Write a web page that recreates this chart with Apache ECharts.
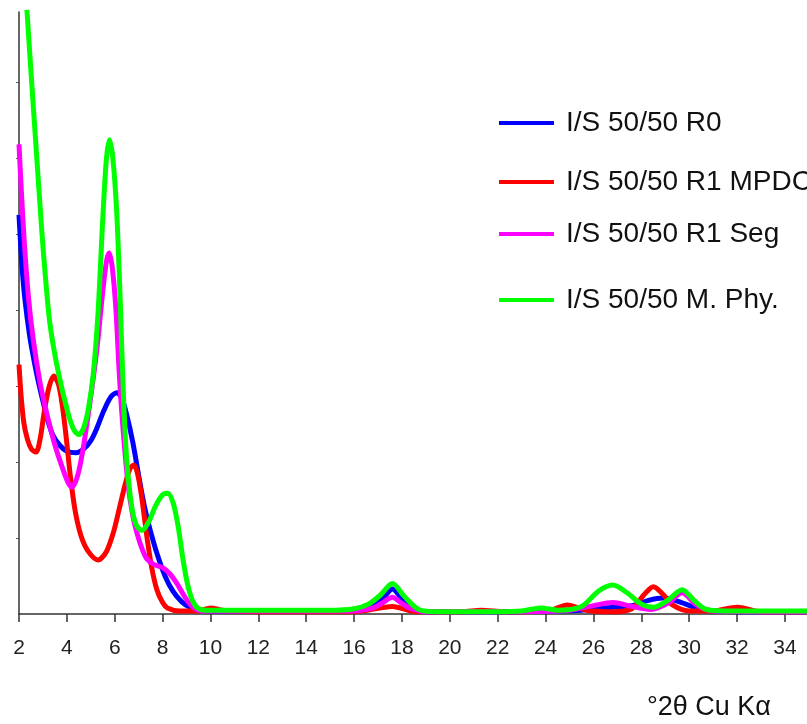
<!DOCTYPE html>
<html>
<head>
<meta charset="utf-8">
<script src="https://cdn.jsdelivr.net/npm/echarts@6/dist/echarts.min.js"></script>
<style>html,body{margin:0;padding:0;background:#fff}#c{width:807px;height:724px}</style>
</head>
<body>
<div id="c"></div>
<script>
const xTicks = [2,4,6,8,10,12,14,16,18,20,22,24,26,28,30,32,34];
const seriesNames = ['I/S 50/50 R0','I/S 50/50 R1 MPDC','I/S 50/50 R1 Seg','I/S 50/50 M. Phy.'];
const axisTitle = '°2θ Cu Kα';

const blueR0 = [[2.0,5.25],[2.12,4.6],[2.25,4.13],[2.45,3.65],[2.65,3.3],[2.85,3.0],[3.0,2.8],[3.2,2.55],[3.42,2.35],[3.7,2.22],[4.0,2.14],[4.38,2.12],[4.7,2.17],[5.0,2.28],[5.26,2.45],[5.55,2.68],[5.85,2.86],[6.09,2.91],[6.28,2.85],[6.5,2.62],[6.76,2.25],[7.0,1.82],[7.25,1.4],[7.5,1.08],[7.76,0.8],[8.1,0.5],[8.43,0.3],[8.8,0.16],[9.14,0.09],[9.6,0.05],[10.5,0.04],[12,0.04],[14,0.04],[16,0.05],[16.8,0.1],[17.2,0.2],[17.6,0.33],[17.95,0.22],[18.3,0.1],[19,0.03],[22,0.03],[24,0.04],[25.5,0.05],[26.8,0.09],[27.6,0.11],[28.3,0.18],[28.9,0.21],[29.5,0.17],[30.3,0.08],[31,0.04],[33,0.03],[34.92,0.03]];
const redMPDC = [[2.0,3.28],[2.08,2.9],[2.2,2.52],[2.35,2.3],[2.52,2.17],[2.71,2.13],[2.88,2.3],[3.05,2.65],[3.25,2.98],[3.46,3.13],[3.65,3.02],[3.82,2.72],[3.98,2.3],[4.15,1.8],[4.35,1.35],[4.6,1.02],[4.9,0.82],[5.3,0.71],[5.65,0.82],[5.95,1.08],[6.2,1.4],[6.45,1.72],[6.65,1.92],[6.8,1.96],[6.95,1.85],[7.12,1.55],[7.35,1.0],[7.55,0.6],[7.76,0.32],[8.0,0.15],[8.2,0.08],[8.7,0.04],[9.5,0.04],[10.0,0.08],[10.5,0.05],[11,0.04],[12,0.03],[16,0.03],[17.6,0.1],[18.6,0.03],[20.5,0.03],[21.3,0.05],[22.3,0.03],[24.2,0.05],[24.9,0.12],[25.7,0.05],[26.8,0.03],[27.6,0.07],[28.1,0.25],[28.5,0.36],[28.9,0.26],[29.3,0.12],[30,0.04],[31,0.04],[32,0.09],[33,0.03],[34.92,0.03]];
const magentaSeg = [[2.0,6.18],[2.1,5.55],[2.22,4.9],[2.4,4.15],[2.6,3.6],[2.88,3.04],[3.1,2.72],[3.3,2.46],[3.55,2.17],[3.84,1.9],[4.05,1.73],[4.22,1.67],[4.45,1.82],[4.67,2.16],[4.95,2.75],[5.26,3.5],[5.5,4.25],[5.66,4.65],[5.77,4.75],[5.9,4.55],[6.05,4.0],[6.2,3.1],[6.36,2.38],[6.57,1.67],[6.75,1.3],[6.95,1.04],[7.15,0.85],[7.35,0.72],[7.65,0.65],[8.0,0.61],[8.3,0.53],[8.6,0.4],[8.9,0.24],[9.14,0.13],[9.4,0.06],[9.7,0.04],[10.5,0.04],[12,0.04],[16,0.04],[16.8,0.08],[17.2,0.15],[17.6,0.22],[17.95,0.15],[18.3,0.08],[19,0.03],[22,0.03],[25,0.05],[26,0.11],[26.8,0.15],[27.6,0.1],[28.4,0.06],[29.1,0.14],[29.7,0.28],[30.3,0.12],[31,0.04],[34.92,0.03]];
const greenMPhy = [[2.33,7.95],[2.55,6.9],[2.75,5.97],[2.95,5.05],[3.1,4.45],[3.3,3.8],[3.63,3.2],[4.05,2.64],[4.3,2.42],[4.5,2.36],[4.7,2.45],[4.9,2.7],[5.1,3.15],[5.3,3.95],[5.5,5.2],[5.65,5.98],[5.78,6.24],[5.92,6.0],[6.08,5.3],[6.22,4.2],[6.36,2.9],[6.5,2.03],[6.71,1.41],[6.9,1.17],[7.13,1.1],[7.4,1.2],[7.7,1.42],[8.0,1.57],[8.22,1.59],[8.45,1.45],[8.65,1.15],[8.85,0.72],[9.05,0.38],[9.27,0.16],[9.5,0.07],[9.8,0.05],[11,0.05],[13,0.05],[15,0.05],[16,0.07],[16.6,0.13],[17.1,0.25],[17.6,0.4],[18.1,0.23],[18.7,0.06],[19.5,0.03],[22,0.03],[23,0.04],[23.8,0.08],[24.5,0.05],[25.5,0.1],[26.2,0.3],[26.8,0.38],[27.4,0.28],[28,0.13],[28.5,0.09],[29.1,0.18],[29.7,0.32],[30.2,0.18],[30.7,0.06],[31.5,0.04],[33,0.04],[34.92,0.04]];

const dataSets = [blueR0, redMPDC, magentaSeg, greenMPhy];
const colors = ['#0000ff','#ff0000','#ff00ff','#00ff00'];
const legendTops = [108,167,219,285];
const FONT = '"Liberation Sans", Arial, sans-serif';

const chart = echarts.init(document.getElementById('c'), null, {renderer:'canvas'});
chart.setOption({
  animation:false,
  backgroundColor:'#ffffff',
  title:{text:axisTitle,left:647,top:693,padding:0,textStyle:{fontFamily:FONT,fontSize:27,fontWeight:'normal',color:'#111',lineHeight:30}},
  legend: seriesNames.map((n,i)=>({
    data:[n], left:499, top:legendTops[i], padding:0, icon:'rect', itemWidth:55, itemHeight:4,
    textStyle:{fontFamily:FONT,fontSize:28,color:'#111',lineHeight:30,padding:[0,0,0,7]},
    selectedMode:false
  })),
  grid:{left:19,right:0,top:12,bottom:110,containLabel:false},
  xAxis:{type:'value',min:2,max:34.92,interval:2,
    axisLine:{lineStyle:{color:'#333',width:1.5}},
    axisTick:{show:true,length:8,lineStyle:{color:'#333',width:1.5},customValues:xTicks},
    axisLabel:{customValues:xTicks,fontFamily:FONT,fontSize:21,color:'#222',margin:24},
    splitLine:{show:false}},
  yAxis:{type:'value',min:0,max:7.92,interval:1,
    axisLine:{show:true,lineStyle:{color:'#333',width:1.5}},
    axisTick:{show:true,length:3,lineStyle:{color:'#555',width:1},customValues:[1,2,3,4,5,6,7]},
    axisLabel:{show:false},
    splitLine:{show:false}},
  series: seriesNames.map((n,i)=>({
    name:n,type:'line',data:dataSets[i],smooth:0.3,showSymbol:false,symbol:'none',
    lineStyle:{color:colors[i],width:5},itemStyle:{color:colors[i]},clip:true,z:2+i
  }))
});
</script>
</body>
</html>
